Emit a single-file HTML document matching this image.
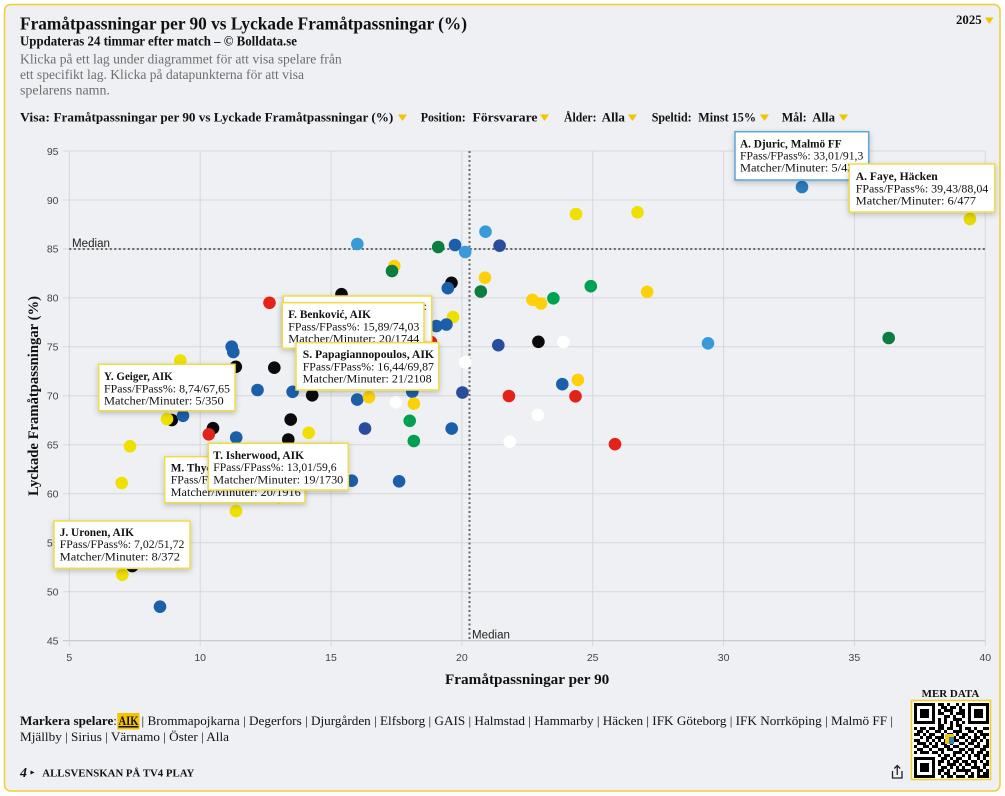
<!DOCTYPE html>
<html><head><meta charset="utf-8">
<style>
html,body{margin:0;padding:0;background:#fff;}
svg{display:block;}
.s{font-family:"Liberation Serif","DejaVu Serif",serif;}
.ss{font-family:"Liberation Sans","DejaVu Sans",sans-serif;}
.b{font-weight:bold;}
.tk{font-family:"Liberation Sans",sans-serif;font-size:10.5px;fill:#444;}
.tt{font-family:"Liberation Serif",serif;font-size:12px;fill:#111;}
.ttb{font-family:"Liberation Serif",serif;font-size:12px;font-weight:bold;fill:#111;}
.tip{fill:#fff;stroke:#f0dc45;stroke-width:1.5;filter:url(#sh);}
</style></head>
<body>
<svg id="c" width="1005" height="796" viewBox="0 0 1005 796" xmlns="http://www.w3.org/2000/svg">
<defs>
<filter id="sh" x="-20%" y="-20%" width="140%" height="150%">
<feDropShadow dx="0" dy="2" stdDeviation="3" flood-color="#000" flood-opacity="0.22"/>
</filter>
</defs>
<rect x="4.5" y="4.5" width="995.5" height="786.5" rx="6" fill="#eff0f4" stroke="#f0cf30" stroke-width="1.5"/>

<!-- Header -->
<text class="s b" x="20" y="29.3" font-size="18" textLength="447" lengthAdjust="spacingAndGlyphs" fill="#111">Framåtpassningar per 90 vs Lyckade Framåtpassningar (%)</text>
<text class="s b" x="20" y="45.3" font-size="13.5" textLength="277" lengthAdjust="spacingAndGlyphs" fill="#111">Uppdateras 24 timmar efter match – © Bolldata.se</text>
<text class="s" x="20" y="63.3" font-size="13.5" textLength="321.7" lengthAdjust="spacingAndGlyphs" fill="#6e6e6e">Klicka på ett lag under diagrammet för att visa spelare från</text>
<text class="s" x="20" y="79" font-size="13.5" textLength="284" lengthAdjust="spacingAndGlyphs" fill="#6e6e6e">ett specifikt lag. Klicka på datapunkterna för att visa</text>
<text class="s" x="20" y="94.5" font-size="13.5" textLength="90" lengthAdjust="spacingAndGlyphs" fill="#6e6e6e">spelarens namn.</text>

<text class="s b" x="956" y="24" font-size="12.5" textLength="25.7" lengthAdjust="spacingAndGlyphs" fill="#111">2025</text>
<polygon points="985,17.5 993.5,17.5 989.25,24" fill="#f5c400"/>

<!-- Filter row -->
<g class="s b" font-size="12.5" fill="#111">
<text x="20" y="121.5" textLength="30" lengthAdjust="spacingAndGlyphs">Visa:</text>
<text x="53.5" y="121.5" textLength="339.8" lengthAdjust="spacingAndGlyphs">Framåtpassningar per 90 vs Lyckade Framåtpassningar (%)</text>
<text x="420.7" y="121.5" textLength="45" lengthAdjust="spacingAndGlyphs">Position:</text>
<text x="472.5" y="121.5" textLength="65" lengthAdjust="spacingAndGlyphs">Försvarare</text>
<text x="564" y="121.5" textLength="32.5" lengthAdjust="spacingAndGlyphs">Ålder:</text>
<text x="601.7" y="121.5" textLength="23.3" lengthAdjust="spacingAndGlyphs">Alla</text>
<text x="651.7" y="121.5" textLength="40" lengthAdjust="spacingAndGlyphs">Speltid:</text>
<text x="698.3" y="121.5" textLength="57.7" lengthAdjust="spacingAndGlyphs">Minst 15%</text>
<text x="781.7" y="121.5" textLength="25" lengthAdjust="spacingAndGlyphs">Mål:</text>
<text x="812.3" y="121.5" textLength="22.7" lengthAdjust="spacingAndGlyphs">Alla</text>
</g>
<g fill="#f5c400">
<polygon points="398,114.5 407,114.5 402.5,121"/>
<polygon points="540,114.5 549,114.5 544.5,121"/>
<polygon points="628,114.5 637,114.5 632.5,121"/>
<polygon points="760,114.5 769,114.5 764.5,121"/>
<polygon points="839,114.5 848,114.5 843.5,121"/>
</g>

<!-- Grid -->
<g stroke="#d6d7dc" stroke-width="1">
<line x1="63" y1="151" x2="985.3" y2="151"/>
<line x1="63" y1="200" x2="985.3" y2="200"/>
<line x1="63" y1="248.9" x2="985.3" y2="248.9"/>
<line x1="63" y1="297.9" x2="985.3" y2="297.9"/>
<line x1="63" y1="346.8" x2="985.3" y2="346.8"/>
<line x1="63" y1="395.8" x2="985.3" y2="395.8"/>
<line x1="63" y1="444.8" x2="985.3" y2="444.8"/>
<line x1="63" y1="493.7" x2="985.3" y2="493.7"/>
<line x1="63" y1="542.7" x2="985.3" y2="542.7"/>
<line x1="63" y1="591.7" x2="985.3" y2="591.7"/>
<line x1="69.3" y1="151" x2="69.3" y2="646"/>
<line x1="200.2" y1="151" x2="200.2" y2="646"/>
<line x1="331" y1="151" x2="331" y2="646"/>
<line x1="461.9" y1="151" x2="461.9" y2="646"/>
<line x1="592.7" y1="151" x2="592.7" y2="646"/>
<line x1="723.6" y1="151" x2="723.6" y2="646"/>
<line x1="854.4" y1="151" x2="854.4" y2="646"/>
<line x1="985.3" y1="151" x2="985.3" y2="646"/>
</g>
<line x1="63" y1="640.7" x2="985.3" y2="640.7" stroke="#c4c5ca" stroke-width="1.2"/>

<!-- Tick labels -->
<g class="tk" text-anchor="end">
<text x="58.5" y="154.8">95</text>
<text x="58.5" y="203.8">90</text>
<text x="58.5" y="252.7">85</text>
<text x="58.5" y="301.7">80</text>
<text x="58.5" y="350.6">75</text>
<text x="58.5" y="399.6">70</text>
<text x="58.5" y="448.6">65</text>
<text x="58.5" y="497.5">60</text>
<text x="58.5" y="546.5">55</text>
<text x="58.5" y="595.5">50</text>
<text x="58.5" y="644.5">45</text>
</g>
<g class="tk" text-anchor="middle">
<text x="69.3" y="661">5</text>
<text x="200.2" y="661">10</text>
<text x="331" y="661">15</text>
<text x="461.9" y="661">20</text>
<text x="592.7" y="661">25</text>
<text x="723.6" y="661">30</text>
<text x="854.4" y="661">35</text>
<text x="985.3" y="661">40</text>
</g>

<!-- Axis titles -->
<text class="s b" x="445" y="684" font-size="14.5" textLength="164.3" lengthAdjust="spacingAndGlyphs" fill="#111">Framåtpassningar per 90</text>
<text class="s b" transform="translate(38,396) rotate(-90)" x="0" y="0" text-anchor="middle" font-size="14.5" textLength="200" lengthAdjust="spacingAndGlyphs" fill="#111">Lyckade Framåtpassningar (%)</text>

<!-- Median lines -->
<line x1="69.3" y1="249" x2="985.3" y2="249" stroke="#666" stroke-width="2" stroke-dasharray="2,2.5"/>
<line x1="469.5" y1="151" x2="469.5" y2="640.7" stroke="#666" stroke-width="2" stroke-dasharray="2,2.5"/>

<!-- Points -->
<g>
<circle cx="802" cy="187" r="6.3" fill="#2a7bbd"/>
<circle cx="576" cy="214" r="6.3" fill="#efe000"/>
<circle cx="637.5" cy="212.3" r="6.3" fill="#efe000"/>
<circle cx="970" cy="219" r="6.3" fill="#e6d800"/>
<circle cx="485.5" cy="231.7" r="6.3" fill="#3a9ad9"/>
<circle cx="357.3" cy="244" r="6.3" fill="#3a9ad9"/>
<circle cx="438.2" cy="247" r="6.3" fill="#0b7d3e"/>
<circle cx="455" cy="245" r="6.3" fill="#1b5faa"/>
<circle cx="465.2" cy="252" r="6.3" fill="#3a9ad9"/>
<circle cx="499.6" cy="245.7" r="6.3" fill="#2a4c9c"/>
<circle cx="394.3" cy="266" r="6.3" fill="#fdd10a"/>
<circle cx="392" cy="271" r="6.3" fill="#0b7d3e"/>
<circle cx="485" cy="277.7" r="6.3" fill="#fdd10a"/>
<circle cx="480.8" cy="291.5" r="6.3" fill="#0b7d3e"/>
<circle cx="451.5" cy="282.8" r="6.3" fill="#0a0a0a"/>
<circle cx="447.8" cy="288.2" r="6.3" fill="#1b5faa"/>
<circle cx="590.8" cy="286.2" r="6.3" fill="#00a152"/>
<circle cx="647.1" cy="291.8" r="6.3" fill="#fdd10a"/>
<circle cx="532.4" cy="299.8" r="6.3" fill="#fdd10a"/>
<circle cx="541" cy="303.5" r="6.3" fill="#fdd10a"/>
<circle cx="553.4" cy="298.3" r="6.3" fill="#00a152"/>
<circle cx="269.5" cy="302.8" r="6.3" fill="#e32219"/>
<circle cx="341.5" cy="294.2" r="6.3" fill="#0a0a0a"/>
<circle cx="453" cy="317" r="6.3" fill="#efe000"/>
<circle cx="436.4" cy="326" r="6.3" fill="#1b5faa"/>
<circle cx="446.4" cy="324.5" r="6.3" fill="#1b5faa"/>
<circle cx="431" cy="342" r="6.3" fill="#e32219"/>
<circle cx="498.3" cy="345.2" r="6.3" fill="#2a4c9c"/>
<circle cx="538.4" cy="341.8" r="6.3" fill="#0a0a0a"/>
<circle cx="563.4" cy="342" r="6.3" fill="#ffffff"/>
<circle cx="708" cy="343.3" r="6.3" fill="#3a9ad9"/>
<circle cx="888.7" cy="338" r="6.3" fill="#0b7d3e"/>
<circle cx="465.2" cy="362.4" r="6.3" fill="#ffffff"/>
<circle cx="231.7" cy="346.7" r="6.3" fill="#1b5faa"/>
<circle cx="233.3" cy="352" r="6.3" fill="#1b5faa"/>
<circle cx="180.3" cy="360.5" r="6.3" fill="#efe000"/>
<circle cx="235.8" cy="366.8" r="6.3" fill="#0a0a0a"/>
<circle cx="274.3" cy="367.7" r="6.3" fill="#0a0a0a"/>
<circle cx="257.5" cy="390" r="6.3" fill="#1b5faa"/>
<circle cx="292.6" cy="391.8" r="6.3" fill="#1b5faa"/>
<circle cx="312.2" cy="395.3" r="6.3" fill="#0a0a0a"/>
<circle cx="357.2" cy="399.6" r="6.3" fill="#1b5faa"/>
<circle cx="369" cy="397.2" r="6.3" fill="#fdd10a"/>
<circle cx="395.8" cy="402.2" r="6.3" fill="#ffffff"/>
<circle cx="412.3" cy="391.7" r="6.3" fill="#1b5faa"/>
<circle cx="413.9" cy="403.7" r="6.3" fill="#fdd10a"/>
<circle cx="462.4" cy="392.5" r="6.3" fill="#2a4c9c"/>
<circle cx="562.3" cy="384.2" r="6.3" fill="#1b5faa"/>
<circle cx="577.9" cy="379.9" r="6.3" fill="#fdd10a"/>
<circle cx="508.9" cy="396" r="6.3" fill="#e32219"/>
<circle cx="575.5" cy="396.3" r="6.3" fill="#e32219"/>
<circle cx="537.8" cy="414.9" r="6.3" fill="#ffffff"/>
<circle cx="171.8" cy="420" r="6.3" fill="#0a0a0a"/>
<circle cx="167" cy="419" r="6.3" fill="#efe000"/>
<circle cx="183" cy="415.8" r="6.3" fill="#1b5faa"/>
<circle cx="290.7" cy="419.6" r="6.3" fill="#0a0a0a"/>
<circle cx="409.7" cy="420.8" r="6.3" fill="#00a152"/>
<circle cx="365" cy="428.5" r="6.3" fill="#2a4c9c"/>
<circle cx="451.7" cy="428.6" r="6.3" fill="#1b5faa"/>
<circle cx="213" cy="428.2" r="6.3" fill="#0a0a0a"/>
<circle cx="208.8" cy="434.3" r="6.3" fill="#e32219"/>
<circle cx="236.2" cy="437.5" r="6.3" fill="#1b5faa"/>
<circle cx="308.7" cy="432.8" r="6.3" fill="#efe000"/>
<circle cx="288.3" cy="439.5" r="6.3" fill="#0a0a0a"/>
<circle cx="413.8" cy="441" r="6.3" fill="#00a152"/>
<circle cx="509.8" cy="441.7" r="6.3" fill="#ffffff"/>
<circle cx="615" cy="444.2" r="6.3" fill="#e32219"/>
<circle cx="130" cy="446.3" r="6.3" fill="#efe000"/>
<circle cx="121.7" cy="483" r="6.3" fill="#efe000"/>
<circle cx="351.8" cy="480.7" r="6.3" fill="#1b5faa"/>
<circle cx="399.1" cy="481.3" r="6.3" fill="#1b5faa"/>
<circle cx="236" cy="511" r="6.3" fill="#efe000"/>
<circle cx="279" cy="497.7" r="6.3" fill="#efe000"/>
<circle cx="132.3" cy="566" r="6.3" fill="#0a0a0a"/>
<circle cx="122.3" cy="574.8" r="6.3" fill="#efe000"/>
<circle cx="160" cy="606.7" r="6.3" fill="#1b5faa"/>
</g>

<!-- Median labels -->
<text class="ss" x="72" y="247" font-size="11.5" textLength="38" lengthAdjust="spacingAndGlyphs" fill="#222">Median</text>
<text class="ss" x="472" y="638.5" font-size="11.5" textLength="38" lengthAdjust="spacingAndGlyphs" fill="#222">Median</text>

<!-- Tooltips -->
<g>
<rect class="tip" x="283.3" y="296" width="148.4" height="46"/>
<text class="tt" x="423.5" y="310">:</text>
</g>
<g>
<rect class="tip" x="282.3" y="302.7" width="141.7" height="45.6"/>
<text class="ttb" x="288.3" y="318" textLength="82.7" lengthAdjust="spacingAndGlyphs">F. Benković, AIK</text>
<text class="tt" x="288.3" y="330.3" textLength="131" lengthAdjust="spacingAndGlyphs">FPass/FPass%: 15,89/74,03</text>
<text class="tt" x="288.3" y="342.3" textLength="131" lengthAdjust="spacingAndGlyphs">Matcher/Minuter: 20/1744</text>
</g>
<g>
<rect class="tip" x="296" y="342.7" width="142.7" height="47.3"/>
<text class="ttb" x="302.7" y="358" textLength="131.3" lengthAdjust="spacingAndGlyphs">S. Papagiannopoulos, AIK</text>
<text class="tt" x="302.7" y="370.3" textLength="131.3" lengthAdjust="spacingAndGlyphs">FPass/FPass%: 16,44/69,87</text>
<text class="tt" x="302.7" y="382.5" textLength="129" lengthAdjust="spacingAndGlyphs">Matcher/Minuter: 21/2108</text>
</g>
<g>
<rect class="tip" x="98.7" y="364.3" width="136.3" height="46.4"/>
<text class="ttb" x="104" y="380" textLength="68.7" lengthAdjust="spacingAndGlyphs">Y. Geiger, AIK</text>
<text class="tt" x="104" y="392.5" textLength="126" lengthAdjust="spacingAndGlyphs">FPass/FPass%: 8,74/67,65</text>
<text class="tt" x="104" y="404.5" textLength="119.7" lengthAdjust="spacingAndGlyphs">Matcher/Minuter: 5/350</text>
</g>
<g>
<rect class="tip" x="164.7" y="456.7" width="140.3" height="46"/>
<text class="ttb" x="170.7" y="471.5" textLength="95" lengthAdjust="spacingAndGlyphs">M. Thychosen, AIK</text>
<text class="tt" x="170.7" y="483.5" textLength="131" lengthAdjust="spacingAndGlyphs">FPass/FPass%: 10,89/60,83</text>
<text class="tt" x="170.7" y="496" textLength="130" lengthAdjust="spacingAndGlyphs">Matcher/Minuter: 20/1916</text>
</g>
<g>
<rect class="tip" x="208.3" y="443.3" width="140" height="46.7"/>
<text class="ttb" x="213.3" y="459" textLength="90.7" lengthAdjust="spacingAndGlyphs">T. Isherwood, AIK</text>
<text class="tt" x="213.3" y="471.2" textLength="123.3" lengthAdjust="spacingAndGlyphs">FPass/FPass%: 13,01/59,6</text>
<text class="tt" x="213.3" y="483.3" textLength="130" lengthAdjust="spacingAndGlyphs">Matcher/Minuter: 19/1730</text>
</g>
<g>
<rect class="tip" x="54" y="521" width="136" height="47.3"/>
<text class="ttb" x="59.7" y="536" textLength="74.3" lengthAdjust="spacingAndGlyphs">J. Uronen, AIK</text>
<text class="tt" x="59.7" y="548.2" textLength="124.7" lengthAdjust="spacingAndGlyphs">FPass/FPass%: 7,02/51,72</text>
<text class="tt" x="59.7" y="560.3" textLength="120.3" lengthAdjust="spacingAndGlyphs">Matcher/Minuter: 8/372</text>
</g>
<g>
<rect class="tip" x="735" y="131.7" width="133.7" height="48.3" style="stroke:#5ba5d6"/>
<text class="ttb" x="740" y="147.5" textLength="101.7" lengthAdjust="spacingAndGlyphs">A. Djuric, Malmö FF</text>
<text class="tt" x="740" y="159.5" textLength="123.3" lengthAdjust="spacingAndGlyphs">FPass/FPass%: 33,01/91,3</text>
<text class="tt" x="740" y="171.5" textLength="119.7" lengthAdjust="spacingAndGlyphs">Matcher/Minuter: 5/430</text>
</g>
<g>
<rect class="tip" x="849.3" y="164" width="145.4" height="48"/>
<text class="ttb" x="855.7" y="180" textLength="82" lengthAdjust="spacingAndGlyphs">A. Faye, Häcken</text>
<text class="tt" x="855.7" y="192.3" textLength="132.6" lengthAdjust="spacingAndGlyphs">FPass/FPass%: 39,43/88,04</text>
<text class="tt" x="855.7" y="204.4" textLength="120.3" lengthAdjust="spacingAndGlyphs">Matcher/Minuter: 6/477</text>
</g>

<!-- Legend -->
<rect x="117.3" y="713" width="22.2" height="16.5" fill="#f5c400"/>
<text class="s b" x="20" y="725" font-size="13" textLength="93.3" lengthAdjust="spacingAndGlyphs" fill="#111">Markera spelare</text>
<text class="s" x="113.3" y="725" font-size="13" fill="#111">:</text>
<text class="s b" x="118.5" y="725" font-size="13" textLength="20" lengthAdjust="spacingAndGlyphs" fill="#111" text-decoration="underline">AIK</text>
<line x1="118.5" y1="727" x2="138.5" y2="727" stroke="#111" stroke-width="1"/>
<text class="s" x="141.5" y="725" font-size="13" textLength="751.5" lengthAdjust="spacingAndGlyphs" fill="#111">| Brommapojkarna | Degerfors | Djurgården | Elfsborg | GAIS | Halmstad | Hammarby | Häcken | IFK Göteborg | IFK Norrköping | Malmö FF |</text>
<text class="s" x="20" y="741" font-size="13" textLength="209" lengthAdjust="spacingAndGlyphs" fill="#111">Mjällby | Sirius | Värnamo | Öster | Alla</text>

<!-- Footer -->
<text class="s b" x="20" y="777" font-size="14" font-style="italic" fill="#111">4</text>
<polygon points="30.5,770.5 34.5,772.5 30.5,774.5" fill="#111"/>
<text class="s b" x="42.3" y="776.5" font-size="10.5" textLength="152" lengthAdjust="spacingAndGlyphs" fill="#111">ALLSVENSKAN PÅ TV4 PLAY</text>

<g fill="none" stroke="#222" stroke-width="1.3">
<path d="M892.5,771 v7 h9.5 v-7"/>
<path d="M897.25,775 v-9.5 M894.3,768.5 l2.95,-2.95 l2.95,2.95"/>
</g>

<text class="s b" x="921.7" y="697" font-size="10.5" textLength="57.6" lengthAdjust="spacingAndGlyphs" fill="#111">MER DATA</text>
<rect x="911.5" y="700.5" width="79" height="79" fill="#fff" stroke="#f2cf2a" stroke-width="1.6"/>
<g id="qr" fill="#000"></g>
</svg>
<script>
(function(){
var rows=[
"1111111011010010101111111",
"1000001001101101001000001",
"1011101010111001101011101",
"1011101011001011101011101",
"1011101000110100101011101",
"1000001010100111001000001",
"1111111010101010101111111",
"0000000011001011000000000",
"1011011011011001011010011",
"0110100110100111001101100",
"1101011001011010110010111",
"0010110111000101101011010",
"1100101010110110010110101",
"0111010101101001101101001",
"1001101100110110010011011",
"0110010011011001101100110",
"1011101101000111010101101",
"0000000010110100101011011",
"1111111001101011001001010",
"1000001011010110110110101",
"1011101010011101011010011",
"1011101001101010100111010",
"1011101011010011111001101",
"1000001010110100010101011",
"1111111001011011101101111"];
var g=document.getElementById('qr'),ns='http://www.w3.org/2000/svg';
for(var r=0;r<25;r++){for(var c=0;c<25;c++){if(rows[r][c]==='1'){var e=document.createElementNS(ns,'rect');e.setAttribute('x',914+c*3);e.setAttribute('y',703+r*3);e.setAttribute('width',3);e.setAttribute('height',3);g.appendChild(e);}}}
var l=document.createElementNS(ns,'rect');l.setAttribute('x',945);l.setAttribute('y',734);l.setAttribute('width',9);l.setAttribute('height',10);l.setAttribute('fill','#f5c400');g.appendChild(l);
var l2=document.createElementNS(ns,'rect');l2.setAttribute('x',949);l2.setAttribute('y',737);l2.setAttribute('width',5);l2.setAttribute('height',7);l2.setAttribute('fill','#3a7fc0');g.appendChild(l2);
})();
</script>
</body></html>
